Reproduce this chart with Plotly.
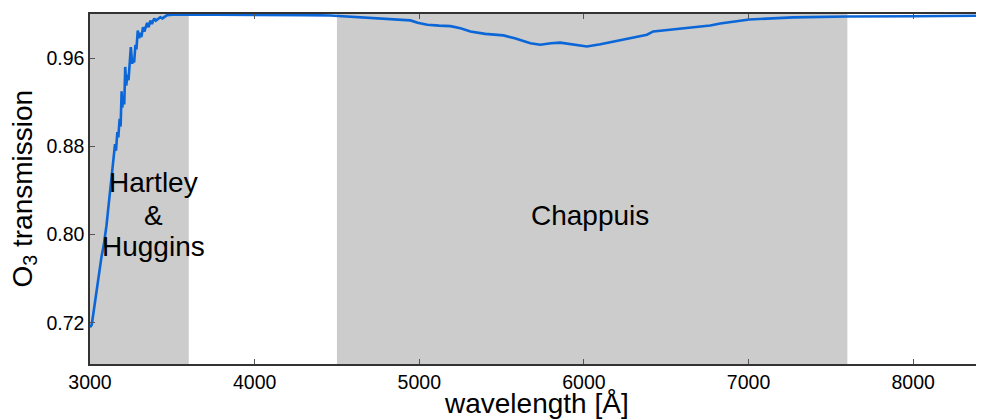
import plotly.graph_objects as go

# Data
wavelength = [3000, 3010, 3020, 3033, 3053, 3070, 3083, 3100, 3114, 3130, 3144,
              3152, 3158, 3166, 3172, 3180, 3186, 3192, 3196, 3203, 3208, 3214,
              3220, 3228, 3234, 3248, 3256, 3262, 3268, 3276, 3282, 3290, 3298,
              3305, 3312, 3322, 3330, 3347, 3356, 3367, 3376, 3390, 3400, 3427,
              3440, 3468, 3520, 3610, 4000, 4300, 4461, 4600, 4764, 4900, 4946,
              4990, 5049, 5120, 5189, 5250, 5311, 5400, 5511, 5580, 5675, 5735,
              5800, 5856, 5930, 6018, 6100, 6221, 6300, 6383, 6421, 6525, 6625,
              6767, 6828, 7004, 7271, 7597, 8000, 8430]
transmission = [0.716, 0.718, 0.728, 0.741, 0.765, 0.780, 0.790, 0.808, 0.828, 0.850, 0.870,
                0.882, 0.876, 0.893, 0.888, 0.905, 0.898, 0.930, 0.915, 0.925, 0.918, 0.952,
                0.935, 0.945, 0.940, 0.970, 0.955, 0.958, 0.956, 0.972, 0.968, 0.985, 0.978,
                0.983, 0.979, 0.988, 0.984, 0.992, 0.988, 0.994, 0.991, 0.996, 0.994, 0.997,
                0.996, 0.999, 0.9995, 0.9995, 0.9993, 0.999, 0.9987, 0.9975, 0.9962, 0.995, 0.9942,
                0.992, 0.9903, 0.9895, 0.989, 0.987, 0.9842, 0.982, 0.9806, 0.978, 0.9735, 0.9721,
                0.9735, 0.974, 0.9725, 0.9706, 0.9725, 0.9763, 0.979, 0.9812, 0.9842, 0.986, 0.9875,
                0.9896, 0.9914, 0.995, 0.9969, 0.9978, 0.998, 0.9984]

band_starts = [2990, 4500]
band_ends = [3600, 7600]

# band label lines (text, wavelength position, transmission position)
label_texts = ["Hartley", "&", "Huggins", "Chappuis"]
label_x = [3385, 3385, 3385, 6038]
label_y = [0.8470, 0.8173, 0.7896, 0.8175]

x_title = "wavelength [Å]"
y_title = "O<sub>3</sub> transmission"

x_ticks = [3000, 4000, 5000, 6000, 7000, 8000]
y_ticks = [0.72, 0.80, 0.88, 0.96]

FONT = "Liberation Sans, Arial, Helvetica, sans-serif"

fig = go.Figure()
fig.add_trace(go.Scatter(x=wavelength, y=transmission, mode="lines",
                         line=dict(color="#0b66d8", width=2.6), showlegend=False,
                         hoverinfo="skip"))

for x0, x1 in zip(band_starts, band_ends):
    fig.add_shape(type="rect", xref="x", yref="paper", x0=x0, x1=x1, y0=0, y1=1,
                  fillcolor="#cccccc", line=dict(width=0), layer="below")

for lbl, lx, ly in zip(label_texts, label_x, label_y):
    fig.add_annotation(x=lx, y=ly, xref="x", yref="y", text=lbl, showarrow=False,
                       yanchor="middle", xanchor="center",
                       font=dict(family=FONT, size=28, color="black"))

# axis titles
fig.add_annotation(x=0.5, y=0, xref="paper", yref="paper", text=x_title,
                   showarrow=False, xanchor="center", yanchor="middle",
                   xshift=-0.5, yshift=-39,
                   font=dict(family=FONT, size=28, color="black"))
fig.add_annotation(x=0, y=0.5, xref="paper", yref="paper", text=y_title,
                   showarrow=False, xanchor="center", yanchor="middle",
                   textangle=-90, xshift=-66.5,
                   font=dict(family=FONT, size=28, color="black"))

axis_common = dict(showgrid=False, zeroline=False, showline=True, linecolor="#333333",
                   linewidth=1.5, mirror="ticks", ticks="inside", ticklen=5,
                   tickcolor="#555555", tickwidth=1, automargin=False,
                   tickfont=dict(family=FONT, size=19.5, color="black"))

fig.update_layout(
    width=976, height=411,
    margin=dict(l=81.5, r=0, t=5.5, b=55, autoexpand=False),
    plot_bgcolor="white", paper_bgcolor="white",
    xaxis=dict(range=[3000, 8430], tickvals=x_ticks,
               ticktext=[str(v) for v in x_ticks], **axis_common),
    yaxis=dict(range=[0.6826, 1.0], tickvals=y_ticks,
               ticktext=[f"{v:.2f}" for v in y_ticks], **axis_common),
)

fig.write_html("out.html")
